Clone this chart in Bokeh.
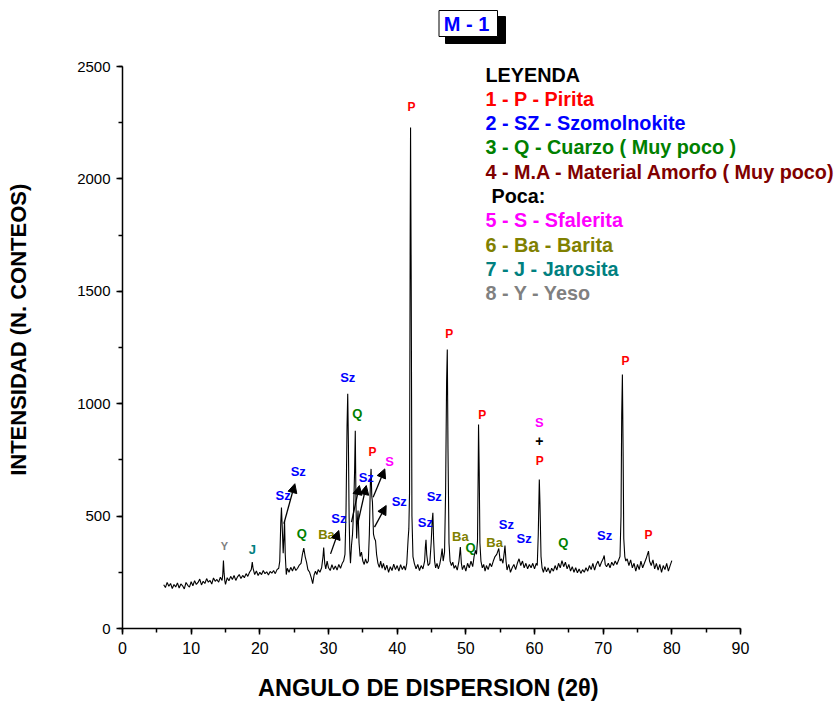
import math
from bokeh.plotting import figure
from bokeh.models import ColumnDataSource, Arrow, NormalHead, SingleIntervalTicker, Range1d
from bokeh.embed import file_html
from bokeh.resources import INLINE
from bokeh.core.properties import value

# ---------------- data ----------------
two_theta = [
    6.0, 6.25, 6.5, 6.75, 7.0, 7.25, 7.5, 7.75, 8.0, 8.25, 8.5, 8.75, 9.0, 9.25, 9.5, 9.75,
    10.0, 10.25, 10.5, 10.75, 11.0, 11.25, 11.5, 11.75, 12.0, 12.25, 12.5, 12.75, 13.0, 13.25,
    13.5, 13.75, 14.0, 14.25, 14.5, 14.6, 14.7, 14.8, 14.9, 15.0, 15.25, 15.5, 15.75, 16.0,
    16.25, 16.5, 16.75, 17.0, 17.25, 17.5, 17.75, 18.0, 18.25, 18.5, 18.75, 18.9, 19.0, 19.25,
    19.5, 19.75, 20.0, 20.25, 20.5, 20.75, 21.0, 21.25, 21.5, 21.75, 22.0, 22.25, 22.5, 22.75,
    22.9, 23.05, 23.15, 23.3, 23.4, 23.5, 23.6, 23.7, 23.85, 24.0, 24.25, 24.5, 24.75, 25.0,
    25.25, 25.5, 25.75, 26.0, 26.2, 26.4, 26.6, 26.8, 27.0, 27.25, 27.5, 27.7, 27.9, 28.1,
    28.3, 28.5, 28.75, 29.0, 29.2, 29.3, 29.45, 29.6, 29.8, 30.0, 30.25, 30.5, 30.75, 31.0,
    31.25, 31.5, 31.75, 32.0, 32.2, 32.4, 32.55, 32.7, 32.8, 32.9, 33.0, 33.1, 33.2, 33.35,
    33.5, 33.65, 33.8, 33.9, 34.0, 34.1, 34.2, 34.3, 34.45, 34.6, 34.8, 35.0, 35.2, 35.4,
    35.6, 35.8, 35.95, 36.1, 36.2, 36.3, 36.4, 36.55, 36.7, 36.85, 37.0, 37.2, 37.4, 37.6,
    37.8, 38.0, 38.25, 38.5, 38.75, 39.0, 39.25, 39.5, 39.75, 40.0, 40.25, 40.5, 40.75, 41.0,
    41.2, 41.4, 41.6, 41.7, 41.8, 41.9, 41.95, 42.05, 42.15, 42.3, 42.5, 42.75, 43.0, 43.25,
    43.5, 43.75, 44.0, 44.1, 44.2, 44.3, 44.5, 44.75, 44.95, 45.1, 45.2, 45.3, 45.45, 45.6,
    45.8, 46.0, 46.2, 46.4, 46.55, 46.7, 46.9, 47.05, 47.2, 47.3, 47.4, 47.55, 47.7, 47.9,
    48.1, 48.3, 48.5, 48.75, 49.0, 49.2, 49.35, 49.5, 49.75, 50.0, 50.25, 50.5, 50.75, 51.0,
    51.2, 51.4, 51.55, 51.7, 51.8, 51.85, 51.95, 52.05, 52.2, 52.4, 52.6, 52.8, 53.0, 53.25,
    53.5, 53.75, 54.0, 54.25, 54.5, 54.8, 55.0, 55.2, 55.4, 55.6, 55.7, 55.85, 56.0, 56.25,
    56.5, 56.75, 57.0, 57.25, 57.5, 57.75, 58.0, 58.25, 58.5, 58.75, 59.0, 59.25, 59.5, 59.75,
    60.0, 60.25, 60.4, 60.55, 60.7, 60.8, 60.95, 61.1, 61.3, 61.5, 61.75, 62.0, 62.25, 62.5,
    62.75, 63.0, 63.25, 63.5, 63.75, 64.0, 64.25, 64.5, 64.75, 65.0, 65.25, 65.5, 65.75, 66.0,
    66.25, 66.5, 66.75, 67.0, 67.25, 67.5, 67.75, 68.0, 68.25, 68.5, 68.75, 69.0, 69.25, 69.5,
    69.75, 70.0, 70.15, 70.3, 70.5, 70.75, 71.0, 71.25, 71.5, 71.75, 72.0, 72.25, 72.45, 72.6,
    72.7, 72.8, 72.9, 73.0, 73.15, 73.3, 73.5, 73.75, 74.0, 74.25, 74.5, 74.75, 75.0, 75.25,
    75.5, 75.75, 76.0, 76.25, 76.45, 76.6, 76.75, 77.0, 77.25, 77.5, 77.75, 78.0, 78.25, 78.5,
    78.75, 79.0, 79.25, 79.5, 79.75, 80.0,
]
intensity = [
    195, 182, 205, 188, 200, 178, 196, 185, 203, 180, 198, 190, 176, 205, 192, 184,
    208, 190, 213, 196, 205, 220, 194, 210, 200, 222, 206, 214, 198, 225,
    210, 218, 206, 228, 214, 240, 302, 245, 212, 196, 226, 212, 232, 218,
    236, 214, 230, 240, 222, 236, 226, 244, 232, 250, 262, 295, 270, 240,
    256, 236, 250, 240, 258, 244, 252, 238, 254, 246, 258, 244, 262, 268,
    300, 470, 538, 420, 335, 400, 478, 330, 240, 268, 250, 272, 256, 276,
    258, 268, 282, 290, 330, 358, 320, 295, 262, 250, 225, 200, 238, 255,
    240, 262, 250, 270, 320, 360, 290, 265, 300, 270, 258, 284, 262, 278,
    260, 285, 268, 290, 300, 330, 520, 900, 1044, 820, 500, 350, 290, 370,
    420, 520, 700, 880, 560, 400, 470, 525, 380, 320, 340, 300, 285, 310,
    290, 300, 420, 650, 710, 590, 562, 420, 400, 390, 330, 290, 272, 300,
    268, 290, 260, 282, 250, 275, 258, 286, 262, 280, 255, 284, 262, 278,
    260, 290, 400, 443, 600, 1800, 2229, 1500, 500, 320, 290, 265, 285, 258,
    280, 265, 300, 360, 395, 330, 280, 290, 380, 480, 515, 400, 300, 270,
    290, 265, 285, 320, 356, 300, 340, 600, 1100, 1241, 800, 380, 300, 280,
    295, 268, 280, 260, 300, 362, 290, 262, 282, 255, 290, 270, 300, 275,
    320, 347, 330, 391, 700, 907, 700, 380, 300, 270, 285, 255, 280, 262,
    290, 275, 300, 320, 330, 356, 300, 310, 290, 340, 369, 300, 260, 285,
    250, 270, 285, 262, 290, 310, 280, 300, 270, 290, 265, 285, 270, 290,
    265, 290, 280, 420, 663, 550, 320, 270, 250, 275, 252, 270, 245, 268,
    255, 280, 260, 290, 270, 302, 275, 295, 265, 285, 255, 275, 250, 270,
    248, 265, 245, 262, 250, 270, 255, 280, 262, 290, 260, 285, 300, 275,
    295, 310, 325, 285, 275, 290, 270, 295, 280, 300, 285, 305, 320, 500,
    950, 1130, 800, 400, 320, 300, 310, 280, 305, 270, 290, 255, 285, 262,
    300, 270, 290, 310, 330, 344, 300, 280, 305, 265, 290, 260, 285, 250,
    280, 262, 290, 255, 280, 302,
]

# peak annotations (phase symbol, 2theta, intensity position)
peak_text = ["P", "P", "P", "P", "P", "S", "+", "P",
             "Sz", "Q", "P", "S", "Sz", "Sz", "Sz", "Sz", "Sz", "Sz", "Sz",
             "Sz", "Sz", "Sz", "Q", "Ba", "Ba", "Ba", "Q", "Q", "Y", "J"]
peak_x = [42.1, 47.6, 52.4, 73.25, 76.6, 60.7, 60.7, 60.75,
          32.8, 34.2, 36.4, 38.9, 35.5, 25.6, 23.4, 40.3, 45.4, 31.5, 44.1,
          55.9, 58.5, 70.2, 26.1, 29.7, 49.2, 54.2, 50.7, 64.2, 14.85, 18.9]
peak_y = [2322, 1312, 948, 1192, 414, 916, 836, 747,
          1117, 956, 783, 743, 672, 698, 592, 565, 587, 489, 472,
          463, 400, 414, 423, 418, 409, 383, 360, 383, 369, 351]
peak_phase = ["P", "P", "P", "P", "P", "S", "+", "P",
              "Sz", "Q", "P", "S", "Sz", "Sz", "Sz", "Sz", "Sz", "Sz", "Sz",
              "Sz", "Sz", "Sz", "Q", "Ba", "Ba", "Ba", "Q", "Q", "Y", "J"]

# arrows pointing from peaks to their labels
arrow_x0 = [23.5, 30.3, 33.35, 34.25, 36.5, 36.7]
arrow_y0 = [466, 332, 473, 466, 584, 451]
arrow_x1 = [25.1, 31.5, 34.5, 35.5, 38.2, 38.4]
arrow_y1 = [644, 436, 636, 636, 710, 547]

legend_lines = ["LEYENDA", "1 - P - Pirita", "2 - SZ - Szomolnokite",
                "3 - Q - Cuarzo ( Muy poco )", "4 - M.A - Material Amorfo ( Muy poco)",
                "Poca:", "5 - S - Sfalerita", "6 - Ba - Barita",
                "7 - J - Jarosita", "8 - Y - Yeso"]
legend_phase = ["title", "P", "Sz", "Q", "MA", "title", "S", "Ba", "J", "Y"]

title_text = "M - 1"
x_label = "ANGULO DE DISPERSION (2\u03b8)"
y_label = "INTENSIDAD (N. CONTEOS)"

# ---------------- styles / layout ----------------
FONT = "Liberation Sans"
NBSP = "\u00a0"
phase_colors = {"P": "#FF0000", "Sz": "#0000FF", "Q": "#008000", "MA": "#800000",
                "S": "#FF00FF", "Ba": "#808000", "J": "#008080", "Y": "#808080",
                "+": "#000000", "title": "#000000"}
phase_sizes = {"P": "12px", "Sz": "13px", "Q": "13px", "S": "13px", "Ba": "13px",
               "J": "13px", "Y": "11px", "+": "14px"}

W, H = 838, 706
LEFT, RIGHT, TOP, BOTTOM = 122, 0, 0, 78
PXX = 618.0 / 90.0      # pixels per degree
PXY = 562.0 / 2500.0    # pixels per count
XMAX = (W - LEFT - RIGHT) / PXX
YMAX = (H - TOP - BOTTOM) / PXY


def dx(px):  # canvas pixel -> data x
    return (px - LEFT) / PXX


def dy(py):  # canvas pixel -> data y
    return (H - BOTTOM - py) / PXY


p = figure(width=W, height=H, x_range=Range1d(0, XMAX), y_range=Range1d(0, YMAX),
           output_backend="svg", toolbar_location=None,
           min_border_left=LEFT, min_border_right=RIGHT,
           min_border_top=TOP, min_border_bottom=BOTTOM)
p.outline_line_color = None
p.xgrid.visible = False
p.ygrid.visible = False
p.background_fill_color = "white"
p.border_fill_color = "white"

p.xaxis.ticker = SingleIntervalTicker(interval=10, num_minor_ticks=2)
p.yaxis.ticker = SingleIntervalTicker(interval=500, num_minor_ticks=2)
p.xaxis.bounds = (0, 90)
p.yaxis.bounds = (0, 2500)
for ax in (p.xaxis, p.yaxis):
    ax.axis_line_color = "black"
    ax.axis_line_width = 1.5
    ax.major_tick_line_width = 1.5
    ax.minor_tick_line_width = 1.5
    ax.major_tick_line_color = "black"
    ax.minor_tick_line_color = "black"
    ax.major_tick_in = 0
    ax.major_tick_out = 6
    ax.minor_tick_in = 0
    ax.minor_tick_out = 4
    ax.major_label_text_font = FONT
    ax.major_label_text_color = "black"
    ax.axis_label_text_font = FONT
    ax.axis_label_text_font_style = "bold"
    ax.axis_label_text_color = "black"
p.xaxis.major_label_text_font_size = "16px"
p.yaxis.major_label_text_font_size = "15px"
p.xaxis.major_label_standoff = 7
p.yaxis.major_label_standoff = 6
# axis titles are centred on the whole frame; trailing no-break spaces move them
# to the centre of the drawn axis
p.xaxis.axis_label = x_label + NBSP * 16
p.yaxis.axis_label = y_label + NBSP * 5
p.xaxis.axis_label_text_font_size = "23.5px"
p.yaxis.axis_label_text_font_size = "22px"
p.xaxis.axis_label_standoff = 18
p.yaxis.axis_label_standoff = 43

# trace
p.line(two_theta, intensity, line_color="black", line_width=1.1)

# peak labels
src = ColumnDataSource(dict(x=peak_x, y=peak_y, text=peak_text,
                            color=[phase_colors[k] for k in peak_phase],
                            size=[phase_sizes[k] for k in peak_phase]))
p.text(x="x", y="y", text="text", text_color="color", text_font_size="size",
       text_font=value(FONT), text_font_style="bold", text_align="center",
       text_baseline="middle", source=src)

# arrows
asrc = ColumnDataSource(dict(x0=arrow_x0, y0=arrow_y0, x1=arrow_x1, y1=arrow_y1))
p.add_layout(Arrow(end=NormalHead(size=9, fill_color="black", line_color="black", line_width=1),
                   x_start="x0", y_start="y0", x_end="x1", y_end="y1",
                   line_color="black", line_width=1.3, source=asrc))

# legend block
leg_top = 74
leg_step = 24.3
leg_x = [dx(491) if t == "Poca:" else dx(485) for t in legend_lines]
leg_y = [dy(leg_top + i * leg_step) for i in range(len(legend_lines))]
lsrc = ColumnDataSource(dict(x=leg_x, y=leg_y, text=legend_lines,
                             color=[phase_colors[k] for k in legend_phase]))
p.text(x="x", y="y", text="text", text_color="color", text_font=value(FONT),
       text_font_style="bold", text_font_size="19.8px", text_align="left",
       text_baseline="middle", source=lsrc)

# title box with drop shadow
p.quad(left=dx(445), right=dx(505), top=dy(16), bottom=dy(43), fill_color="black", line_color="black")
p.quad(left=dx(438.5), right=dx(497), top=dy(10), bottom=dy(36), fill_color="white",
       line_color="black", line_width=1)
p.text(x=[dx(466)], y=[dy(23.5)], text=[title_text], text_color="#0000FF", text_font=value(FONT),
       text_font_style="bold", text_font_size="20px", text_align="center", text_baseline="middle")

open("out.html", "w").write(file_html(p, INLINE))
